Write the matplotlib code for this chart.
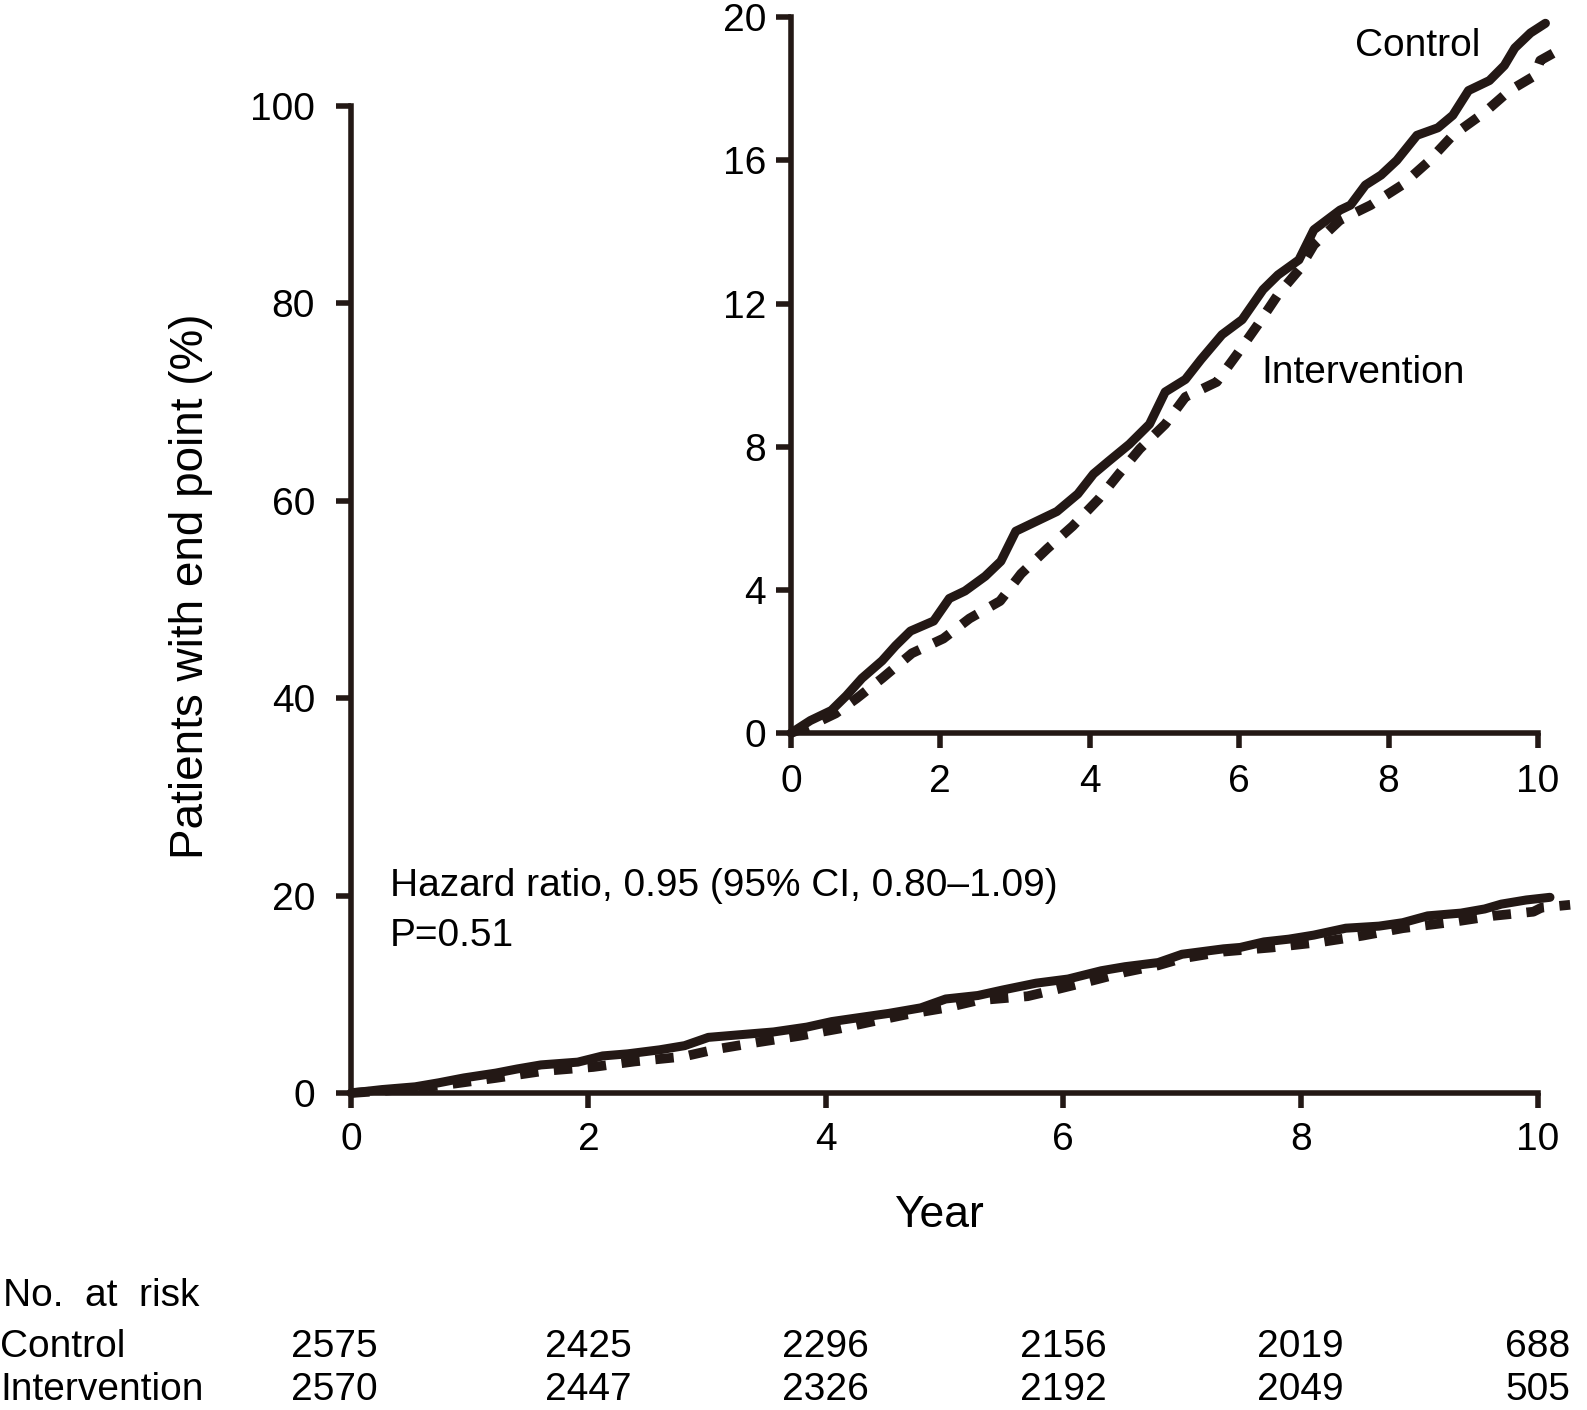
import matplotlib
matplotlib.use("Agg")
import matplotlib.pyplot as plt
import matplotlib.transforms as mtransforms

# Cumulative incidence (years, % with end point)
control_years = [0, 0.26, 0.54, 0.74, 0.95, 1.22, 1.40, 1.60, 1.91, 2.12, 2.33, 2.60, 2.81,
                 3.01, 3.29, 3.56, 3.84, 4.05, 4.25, 4.53, 4.80, 5.01, 5.28, 5.49, 5.77,
                 6.04, 6.32, 6.52, 6.80, 7.00, 7.35, 7.49, 7.69, 7.90, 8.11, 8.38, 8.66,
                 8.86, 9.07, 9.35, 9.55, 9.69, 9.90, 10.10]
control_pct = [0, 0.35, 0.63, 1.04, 1.53, 2.02, 2.44, 2.85, 3.13, 3.76, 3.97, 4.38, 4.80,
               5.64, 5.92, 6.19, 6.68, 7.24, 7.59, 8.07, 8.63, 9.53, 9.88, 10.44, 11.13,
               11.55, 12.39, 12.80, 13.22, 14.06, 14.61, 14.75, 15.31, 15.59, 16.00, 16.70,
               16.91, 17.26, 17.95, 18.23, 18.65, 19.14, 19.56, 19.83]

interv_years = [0, 0.30, 0.60, 0.88, 1.22, 1.62, 2.04, 2.39, 2.80, 3.08, 3.43, 3.77, 4.12,
                4.39, 4.67, 5.01, 5.28, 5.70, 5.97, 6.25, 6.52, 6.80, 7.00, 7.35, 7.76,
                8.18, 8.52, 8.86, 9.28, 9.62, 9.96, 10.03, 10.27]
interv_pct = [0, 0.25, 0.55, 0.97, 1.53, 2.23, 2.64, 3.20, 3.69, 4.45, 5.15, 5.78, 6.54,
              7.24, 7.94, 8.63, 9.39, 9.81, 10.58, 11.41, 12.25, 12.94, 13.64, 14.33, 14.75,
              15.31, 15.94, 16.70, 17.33, 17.95, 18.37, 18.79, 19.07]

# Number at risk table
risk_years = [0, 2, 4, 6, 8, 10]
control_risk = [2575, 2425, 2296, 2156, 2019, 688]
interv_risk = [2570, 2447, 2326, 2192, 2049, 505]

main_yticks = [0, 20, 40, 60, 80, 100]
inset_yticks = [0, 4, 8, 12, 16, 20]
xticks = [0, 2, 4, 6, 8, 10]

plt.rcParams["font.family"] = ["Liberation Sans", "DejaVu Sans"]
fs = 28

ink = "#231815"
lw = 6.5


def style_axes(ax, xpad, ypad):
    for side in ["top", "right"]:
        ax.spines[side].set_visible(False)
    for side in ["left", "bottom"]:
        ax.spines[side].set_linewidth(4)
        ax.spines[side].set_color(ink)
        ax.spines[side].set_capstyle("projecting")
    ax.tick_params(direction="out", length=11, width=4, color=ink, labelsize=fs)
    ax.tick_params(axis="x", pad=xpad)
    ax.tick_params(axis="y", pad=ypad)
    ax.set_xlim(0, 10)
    ax.set_xticks(xticks)


def draw_curves(ax):
    ax.plot(control_years, control_pct, color=ink, lw=lw, solid_capstyle="round", clip_on=False)
    ax.plot(interv_years, interv_pct, color=ink, lw=lw + 0.5, linestyle=(0, (1.9, 1.6)),
            dash_capstyle="butt", clip_on=False)


fig = plt.figure(figsize=(15.87, 14.10), dpi=100)

# Main plot
ax = fig.add_axes([0.2212, 0.2248, 0.7480, 0.7000])
style_axes(ax, 10, 15)
ax.set_ylim(0, 100)
ax.set_yticks(main_yticks)
draw_curves(ax)
ax.set_ylabel("Patients with end point (%)", fontsize=33)
ax.yaxis.set_label_coords(-0.1167, 0.513)
ax.set_xlabel("Year", fontsize=32)
ax.xaxis.set_label_coords(0.495, -0.103)
ax.text(0.33, 21.0, "Hazard ratio, 0.95 (95% CI, 0.80\u20131.09)", va="center", ha="left", fontsize=fs)
ax.text(0.33, 15.9, "P=0.51", va="center", ha="left", fontsize=fs)

# Inset zoomed plot
axin = fig.add_axes([0.4984, 0.4801, 0.4707, 0.5077])
style_axes(axin, 11, 7)
axin.set_ylim(0, 20)
axin.set_yticks(inset_yticks)
draw_curves(axin)
axin.text(9.23, 19.2, "Control", ha="right", va="center", fontsize=fs)
axin.text(6.30, 10.07, "Intervention", ha="left", va="center", fontsize=fs)

# Number at risk table
trans = mtransforms.blended_transform_factory(ax.transData, fig.transFigure)
fig.text(0.002, 0.0741, "No.  at  risk", ha="left", va="baseline", fontsize=fs)
fig.text(0.0, 0.0375, "Control", ha="left", va="baseline", fontsize=fs)
fig.text(0.0, 0.0068, "Intervention", ha="left", va="baseline", fontsize=fs)
for yr, c, i in zip(risk_years, control_risk, interv_risk):
    x = yr - 0.14 if yr == 0 else yr
    fig.text(x, 0.0375, str(c), ha="center", va="baseline", fontsize=fs, transform=trans)
    fig.text(x, 0.0068, str(i), ha="center", va="baseline", fontsize=fs, transform=trans)

fig.savefig("out.png", dpi=100, facecolor="white")
